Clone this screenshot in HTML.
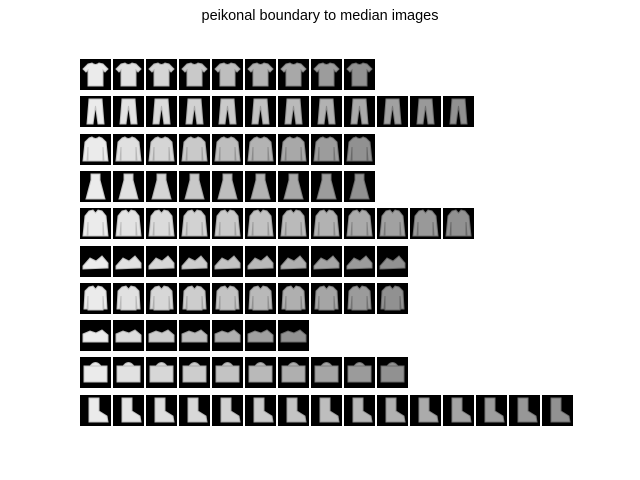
<!DOCTYPE html>
<html><head><meta charset="utf-8"><style>
body{margin:0;background:#fff;}
#wrap{position:relative;width:640px;height:480px;overflow:hidden;font-family:"Liberation Sans",sans-serif;}
#title{position:absolute;top:8px;left:0;width:640px;text-align:center;font-size:14.5px;color:#000;}
</style></head><body>
<div id="wrap">
<div id="title">peikonal boundary to median images</div>
<svg id="grid" width="640" height="480" style="position:absolute;left:0;top:0"></svg>
</div>
<script>
const rowCounts=[9,12,9,9,12,10,10,7,10,15];
const rowKinds=["tshirt","trouser","pullover","dress","coat","sandal","shirt","sneaker","bag","boot"];
const shapes={
tshirt:"M8,5 L12,4 Q15.5,7 19,4 L23,5 L28,10 L25,13 L23,11 L23,27 L8,27 L8,11 L6,13 L3,10 Z",
trouser:"M9,3 L22,3 L24,28 L18,28 L15.5,10 L13,28 L7,28 Z",
pullover:"M9,4 L12,3 Q15.5,6 19,3 L22,4 L26,8 L28,27 L24,27 L23,13 L23,27 L8,27 L8,13 L7,27 L3,27 L5,8 Z",
dress:"M11,3 L20,3 L20,9 L25,28 L6,28 L11,9 Z",
coat:"M9,3 L13,2 L15.5,5 L18,2 L22,3 L26,8 L28,28 L24,28 L23,14 L23,28 L8,28 L8,14 L7,28 L3,28 L5,8 Z",
sandal:"M3,20 L10,12 L16,15 L22,10 L28,17 L28,22 L3,23 Z",
shirt:"M9,4 L13,3 L15.5,6 L18,3 L22,4 L26,8 L27,26 L24,26 L23,13 L23,27 L8,27 L8,13 L7,26 L4,26 L5,8 Z",
sneaker:"M3,14 L10,11 L16,13 L22,10 L28,15 L28,22 L3,22 Z",
bag:"M4,9 L27,9 L27,25 L4,25 Z M10,9 Q15.5,2 21,9",
boot:"M9,3 L19,3 L19,16 L27,21 L28,27 L9,27 Z"
};
const x0=80,y0=59,dx=33,dy=37.3,s=31;
const svg=document.getElementById('grid');
const NS="http://www.w3.org/2000/svg";
rowCounts.forEach((n,r)=>{
  for(let c=0;c<n;c++){
    const g=document.createElementNS(NS,'g');
    
    
    const x=x0+c*dx,y=Math.round(y0+r*dy);
    g.setAttribute('transform','translate('+x+','+y+')');
    const bg=document.createElementNS(NS,'rect');
    bg.setAttribute('width',s);bg.setAttribute('height',s);bg.setAttribute('fill','#000');
    g.appendChild(bg);
    const p=document.createElementNS(NS,'path');
    p.setAttribute('d',shapes[rowKinds[r]]);
    const t=n>1?c/(n-1):0;
    const v=Math.round(235-t*90);
    p.setAttribute('fill','rgb('+v+','+v+','+v+')');
    p.setAttribute('stroke','rgb('+(v-40)+','+(v-40)+','+(v-40)+')');
    p.setAttribute('stroke-width','1');
    g.appendChild(p);
    svg.appendChild(g);
  }
});
</script>
</body></html>
